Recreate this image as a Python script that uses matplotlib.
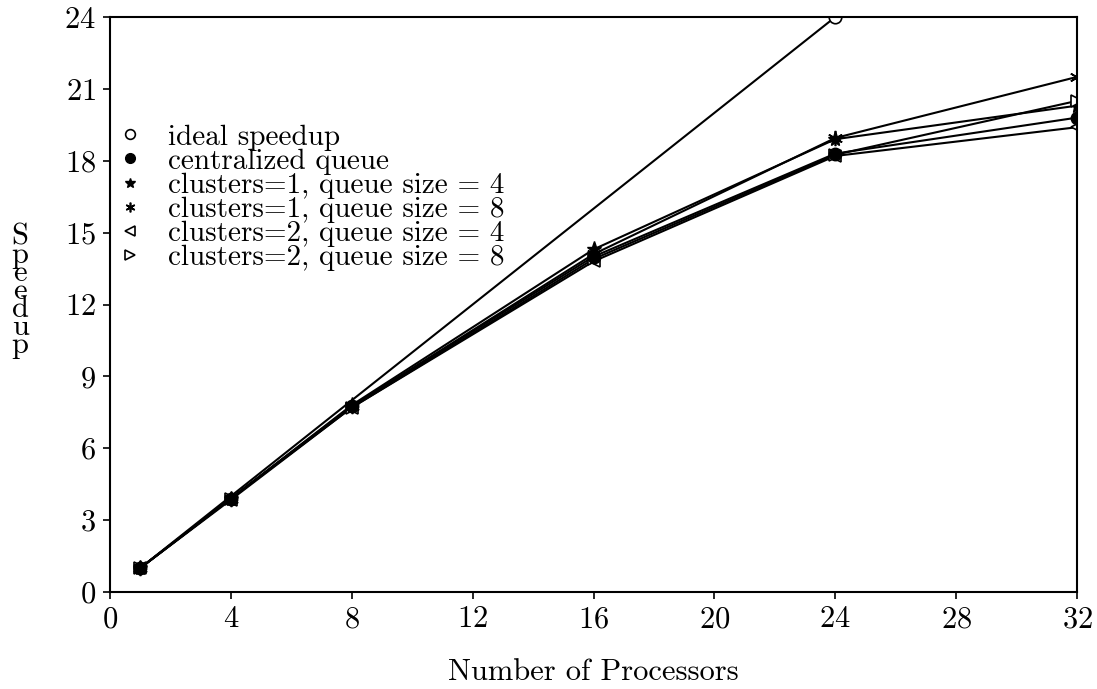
import matplotlib
matplotlib.use('Agg')
import matplotlib.pyplot as plt

# data
procs = [1, 4, 8, 16, 24, 32]
ideal_procs = [1, 4, 8, 16, 24]
ideal = [1, 4, 8, 16, 24]
centralized = [1.0, 3.9, 7.75, 14.0, 18.3, 19.8]
c1_q4 = [1.0, 3.9, 7.8, 14.3, 18.9, 20.3]
c1_q8 = [1.0, 3.9, 7.75, 14.1, 18.95, 21.5]
c2_q4 = [1.0, 3.85, 7.7, 13.8, 18.2, 19.4]
c2_q8 = [1.0, 3.9, 7.7, 13.9, 18.25, 20.5]

labels = ['ideal speedup', 'centralized queue',
          'clusters=1, queue size = 4', 'clusters=1, queue size = 8',
          'clusters=2, queue size = 4', 'clusters=2, queue size = 8']

plt.rcParams['font.family'] = ['cmr10', 'DejaVu Serif']
plt.rcParams['axes.formatter.use_mathtext'] = True
plt.rcParams['font.size'] = 22

fig = plt.figure(figsize=(10.97, 6.89), dpi=100)
ax = fig.add_axes([0.1003, 0.1408, 0.8815, 0.8345])

lw = 1.5
# ideal curve only shows its marker at the last point
ax.plot(ideal_procs, ideal, color='black', lw=lw, marker='o', ms=9,
        mfc='white', mec='black', mew=1.2, markevery=[4], label=labels[0])
ax.plot(procs, c1_q4, color='black', lw=lw, marker='*', ms=11,
        mfc='black', mec='black', label=labels[2])
ax.plot(procs, c2_q4, color='black', lw=lw, marker='<', ms=8,
        mfc='white', mec='black', mew=1.2, label=labels[4])
ax.plot(procs, c2_q8, color='black', lw=lw, marker='>', ms=8,
        mfc='white', mec='black', mew=1.2, label=labels[5])
ax.plot(procs, centralized, color='black', lw=lw, marker='o', ms=9,
        mfc='black', mec='black', label=labels[1])
ax.plot(procs, c1_q8, color='black', lw=lw, marker=(6, 2, 0), ms=11,
        mec='black', mew=1.2, label=labels[3])

ax.set_xlim(0, 32)
ax.set_ylim(0, 24)
ax.set_xticks(range(0, 33, 4))
ax.set_yticks(range(0, 25, 3))
ax.tick_params(direction='out', length=5, width=1.2, pad=5,
               top=False, right=False)
for s in ax.spines.values():
    s.set_linewidth(1.5)

ax.set_xlabel('Number of Processors', labelpad=18)
ax.set_ylabel('S\np\ne\ne\nd\nu\np', rotation=0, linespacing=0.565,
              va='center', ha='center')
ax.yaxis.set_label_coords(-0.093, 0.523)

# legend in the reference order
handles, labs = ax.get_legend_handles_labels()
order = [labs.index(l) for l in labels]
leg = ax.legend([handles[i] for i in order], [labs[i] for i in order],
                loc='upper left', bbox_to_anchor=(-0.005, 0.834),
                frameon=False, numpoints=1, handlelength=0.9,
                handletextpad=0.85, labelspacing=-0.08, borderaxespad=0,
                fontsize=21)
for h in leg.legend_handles:
    h.set_linestyle('none')
    h.set_markersize(7)

fig.savefig('out.png', dpi=100)
